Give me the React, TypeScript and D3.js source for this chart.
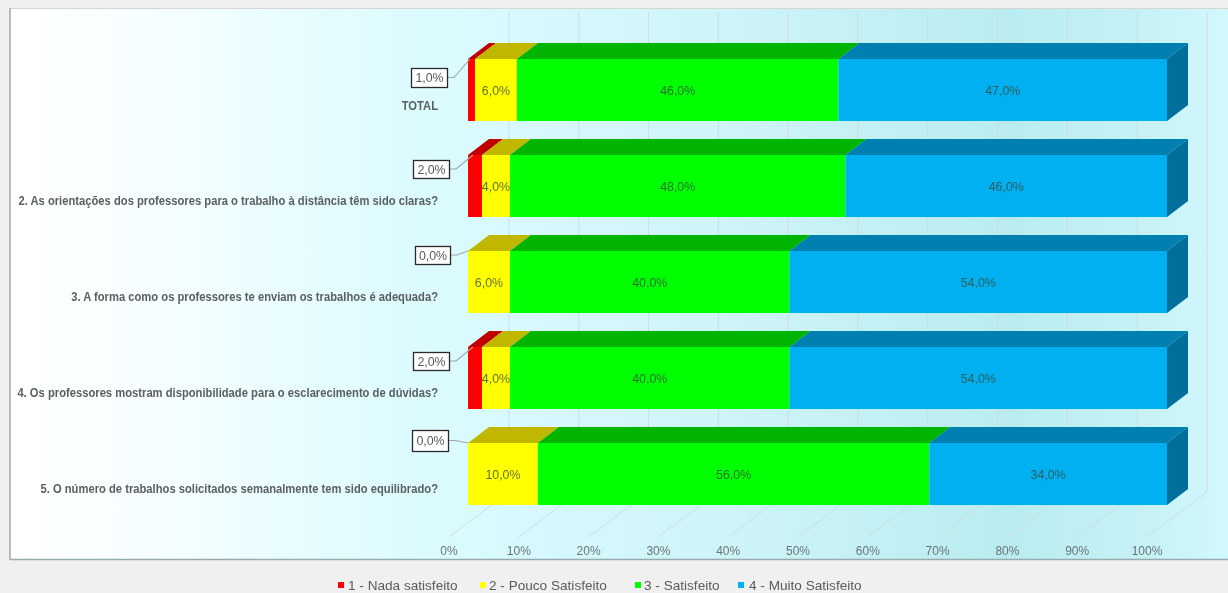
import React from "react";
import * as d3 from "d3";

const categories = [
  "TOTAL",
  "2. As orientações dos professores para o trabalho à distância têm sido claras?",
  "3. A forma como os professores te enviam os trabalhos é adequada?",
  "4. Os professores mostram disponibilidade para o esclarecimento de dúvidas?",
  "5. O número de trabalhos solicitados semanalmente tem sido equilibrado?",
];
const seriesNames = ["1 - Nada satisfeito", "2 - Pouco Satisfeito", "3 - Satisfeito", "4 - Muito Satisfeito"];
const nada = [1, 2, 0, 2, 0];
const pouco = [6, 4, 6, 4, 10];
const satisfeito = [46, 48, 40, 40, 56];
const muito = [47, 46, 54, 54, 34];
const ticks = [0, 10, 20, 30, 40, 50, 60, 70, 80, 90, 100];

const faceColors = ["#ff0000", "#ffff00", "#00ff00", "#00b0f0"];
const topColors = ["#c00000", "#c0b800", "#00b400", "#0080b0"];
const sideColor = "#006f9a";

// layout
const W = 1228, H = 593;
const depthX = 21, depthY = -16;
const x = d3.scaleLinear().domain([0, 100]).range([468, 1167]);
const xBack = d3.scaleLinear().domain([0, 100]).range([509, 1207]);
const xFloor = d3.scaleLinear().domain([0, 100]).range([449, 1147]);
const barH = 62;
const barTop = d3.scaleLinear().domain([0, 4]).range([59, 443]);
const callouts = [
  { x: 411, y: 68, w: 36, h: 19, lx: 470 },
  { x: 413, y: 160, w: 36, h: 18, lx: 473 },
  { x: 415, y: 246, w: 35, h: 18, lx: 468 },
  { x: 413, y: 352, w: 36, h: 18, lx: 473 },
  { x: 412, y: 430, w: 36, h: 21, lx: 468 },
];
const fmt = (v: number) => v.toFixed(1).replace(".", ",") + "%";
const poly = (pts: number[][]) => pts.map((p) => p.join(",")).join(" ");
const legendX = [338, 480, 635, 738];
const legendTextX = [348, 489, 644, 749];
const sans = "'Liberation Sans', Arial, sans-serif";
const labelScale = 0.935;

export default function App() {
  const rows = categories.map((_, i) => [nada[i], pouco[i], satisfeito[i], muito[i]]);
  return (
    <svg width={W} height={H} viewBox={`0 0 ${W} ${H}`} style={{ position: "absolute", left: 0, top: 0, display: "block" }}>
      <defs>
        <linearGradient id="bg" x1="0" x2="1" y1="0" y2="0">
          <stop offset="0" stopColor="#ffffff" />
          <stop offset="0.12" stopColor="#f6feff" />
          <stop offset="0.33" stopColor="#dcfbff" />
          <stop offset="0.6" stopColor="#cdf4f8" />
          <stop offset="0.82" stopColor="#b9ecf0" />
          <stop offset="0.92" stopColor="#c4f1f5" />
          <stop offset="1" stopColor="#d2f8fc" />
        </linearGradient>
        <filter id="soft" x="0" y="0" width="100%" height="100%">
          <feGaussianBlur stdDeviation="0.35" />
        </filter>
      </defs>
      <g filter="url(#soft)">
        <rect x={0} y={0} width={W} height={H} fill="#f0f0f0" />
        <rect x={10} y={9} width={W - 10} height={550} fill="url(#bg)" />
        <line x1={10} x2={W} y1={8.5} y2={8.5} stroke="#d6d6d6" />
        <line x1={10} x2={10} y1={8} y2={560} stroke="#a8a8a8" strokeWidth={1.5} />
        <line x1={10} x2={W} y1={559.5} y2={559.5} stroke="#98abad" strokeWidth={1.5} />

        {ticks.map((t) => (
          <g key={t} stroke="#cfdce0" strokeWidth={1} fill="none">
            <line x1={xBack(t)} x2={xBack(t)} y1={12} y2={492} />
            <line x1={xFloor(t)} x2={xBack(t)} y1={537} y2={492} />
          </g>
        ))}
        {ticks.map((t) => (
          <text key={t} x={xFloor(t)} y={555} textAnchor="middle" fontFamily={sans} fontSize={12} fill="#6b7577">{t}%</text>
        ))}

        {rows.map((vals, i) => {
          const top = barTop(i);
          const cum = d3.cumsum(vals);
          return (
            <g key={i}>
              {vals.map((v, s) => {
                if (v === 0) return null;
                const a = x(cum[s] - v), b = x(cum[s]);
                return (
                  <g key={s}>
                    <polygon points={poly([[a, top], [a + depthX, top + depthY], [b + depthX, top + depthY], [b, top]])} fill={topColors[s]} />
                    <rect x={a} y={top} width={b - a} height={barH} fill={faceColors[s]} />
                  </g>
                );
              })}
              <polygon points={poly([[x(100), top], [x(100) + depthX, top + depthY], [x(100) + depthX, top + depthY + barH], [x(100), top + barH]])} fill={sideColor} />
              {vals.map((v, s) => {
                if (s === 0) return null;
                const cx = x(cum[s] - v / 2);
                return (
                  <text key={s} x={cx} y={top + 36} textAnchor="middle" fontFamily={sans} fontSize={12.4} fill="#3a4a3a" fillOpacity={0.8}>{fmt(v)}</text>
                );
              })}
              <text x={438} y={i === 0 ? top + 51 : top + 50} textAnchor="end" fontFamily={sans} fontSize={12} fontWeight="bold" fill="#5a5f60"
                transform={`translate(${438 * (1 - labelScale)},0) scale(${labelScale},1)`}>{categories[i]}</text>
            </g>
          );
        })}

        {callouts.map((c, i) => {
          const top = barTop(i);
          const mid = c.y + c.h / 2;
          return (
            <g key={i}>
              <polyline points={poly([[c.x + c.w, mid], [c.x + c.w + 7, mid], [c.lx, top]])} fill="none" stroke="#9fa8aa" strokeWidth={1.1} />
              <rect x={c.x + 0.5} y={c.y + 0.5} width={c.w} height={c.h} fill="#ffffff" stroke="#2b2b2b" strokeWidth={1.3} />
              <text x={c.x + c.w / 2 + 0.5} y={mid + 4.5} textAnchor="middle" fontFamily={sans} fontSize={12.4} fill="#595959">{fmt(nada[i])}</text>
            </g>
          );
        })}

        {seriesNames.map((n, s) => (
          <g key={n}>
            <rect x={legendX[s]} y={582} width={6} height={6} fill={faceColors[s]} />
            <text x={legendTextX[s]} y={589.5} fontFamily={sans} fontSize={13.6} fill="#5a5a5a">{n}</text>
          </g>
        ))}
      </g>
    </svg>
  );
}
